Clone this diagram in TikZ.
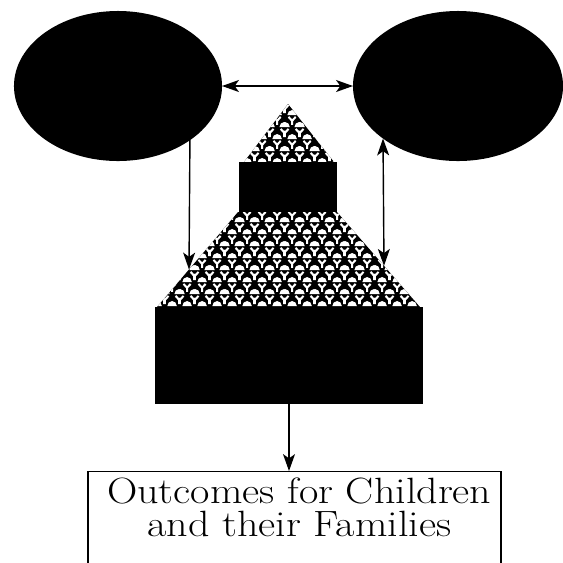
\documentclass[tikz,border=0pt]{standalone}
\usepackage{fontspec}
\newfontfamily\ancha{Latin Modern Roman}[FakeStretch=1.15]
\usetikzlibrary{shapes.geometric,arrows.meta,patterns,positioning}
\newcommand\motivo[2]{%
  \pgfpathmoveto{\pgfpoint{#1-3.6pt}{#2}}\pgfpatharc{180}{0}{3.6pt}\pgfpathclose\pgfusepath{fill}%
  \pgfpathmoveto{\pgfpoint{#1-2.7pt}{#2-1.3pt}}\pgfpathlineto{\pgfpoint{#1}{#2-4pt}}\pgfpathlineto{\pgfpoint{#1+2.7pt}{#2-1.3pt}}%
  \pgfpathmoveto{\pgfpoint{#1}{#2-4pt}}\pgfpathlineto{\pgfpoint{#1}{#2-7pt}}\pgfusepath{stroke}}
\pgfdeclarepatternformonly{redecilla}{\pgfpointorigin}{\pgfqpoint{10.7pt}{17pt}}{\pgfqpoint{10.7pt}{17pt}}{%
  \pgfsetlinewidth{1.5pt}
  \motivo{5.35pt}{12pt}
  \motivo{0pt}{3.5pt}
  \motivo{10.7pt}{3.5pt}
  \motivo{0pt}{20.5pt}
  \motivo{10.7pt}{20.5pt}
}
\tikzset{
  mancha/.style={ellipse,fill=black,inner sep=0pt,outer sep=0pt,minimum height=3.75cm},
  flecha/.style={line width=1pt,-{Stealth[length=12pt,width=8.5pt,inset=3pt]}},
  dobleflecha/.style={line width=1pt,{Stealth[length=12pt,width=8.5pt,inset=3pt]}-{Stealth[length=12pt,width=8.5pt,inset=3pt]}}
}
\begin{document}
\begin{tikzpicture}[x=0.025cm,y=-0.025cm]
\clip (0,0) rectangle (563,562);
\fill[white] (0,0) rectangle (563,562);
%\fill[black!50] (238,212) -- (337,212) -- (420,307) -- (157,307) -- cycle;
\node[mancha,minimum width=5.2cm] (nodeL) at (118,86) {};
\node[mancha,minimum width=5.25cm] (nodeR) at (458,86) {};
\fill[black] (288,104) -- (244,162) -- (334,162) -- cycle;
\fill[pattern=redecilla,pattern color=white] (288,104) -- (244,162) -- (334,162) -- cycle;
\fill[black] (239,162) rectangle (337,212);
\fill[black] (238,212) -- (337,212) -- (420,307) -- (157,307) -- cycle;
\fill[pattern=redecilla,pattern color=white] (238,212) -- (337,212) -- (420,307) -- (157,307) -- cycle;
\node[fill=black,inner sep=0pt,outer sep=0pt,minimum width=6.7cm,minimum height=2.425cm] (nodeB) at (289,355.5) {};
\node[draw,line width=1pt,inner sep=0pt,minimum width=10.325cm,minimum height=3cm,anchor=north] (nodeO) at (294.5,471) {};
\node[below=4.5pt of nodeO.north,xshift=0.12cm,inner sep=0pt,align=center,font=\ancha\fontsize{26}{23.6}\selectfont] (nodeT) {Outcomes for Children\\and their Families};
\coordinate (hitL) at (189,269.5);
\coordinate (hitR) at (384,265.8);
\draw[dobleflecha] (nodeL) -- (nodeR);
\draw[flecha] (nodeL.-37.66) -- (hitL);
\draw[dobleflecha] (nodeR.215.71) -- (hitR);
\draw[flecha] (nodeB.south) -- (nodeB.south |- nodeO.north);
\end{tikzpicture}
\end{document}
